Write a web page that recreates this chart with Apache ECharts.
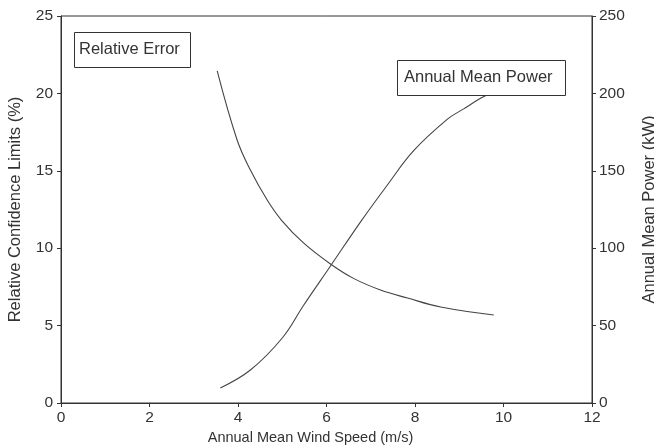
<!DOCTYPE html>
<html>
<head>
<meta charset="utf-8">
<script src="https://cdn.jsdelivr.net/npm/echarts@6/dist/echarts.min.js"></script>
<style>html,body{margin:0;padding:0;background:#fff}#c{width:654px;height:447px}</style>
</head>
<body>
<div id="c"></div>
<script>
// Data
const relErrSpeed = [3.53, 3.98, 4.28, 4.66, 4.98, 5.48, 6.09, 6.61, 7.22, 7.83, 8.58, 9.78];
const relErrValues = [21.45, 16.99, 15.05, 13.11, 11.82, 10.34, 8.98, 8.05, 7.30, 6.78, 6.20, 5.68];
const powerSpeed = [3.60, 4.28, 5.00, 5.48, 6.09, 6.77, 7.38, 7.97, 8.74, 9.10, 9.49, 9.70];
const powerValues = [9.7, 21.3, 42, 63, 88.5, 117, 141, 163, 183.5, 190, 197, 200];
const xTicks = [0, 2, 4, 6, 8, 10, 12];
const leftTicks = [0, 5, 10, 15, 20, 25];
const rightTicks = [0, 50, 100, 150, 200, 250];
const seriesNames = ['Relative Error', 'Annual Mean Power'];

const FONT = '"Liberation Sans", Arial, sans-serif';
const INK = '#333';
const chart = echarts.init(document.getElementById('c'));
const axisCommon = {
  axisLine: { show: true, lineStyle: { color: INK, width: 1 } },
  axisTick: { show: true, length: 4, lineStyle: { color: INK } },
  splitLine: { show: false },
  axisLabel: { color: INK, fontFamily: FONT, fontSize: 15.5 },
  nameTextStyle: { color: INK, fontFamily: FONT, fontSize: 14.5 }
};
chart.setOption({
  animation: false,
  backgroundColor: '#fff',
  grid: { left: 61, right: 62, top: 16, bottom: 44, show: true, borderColor: INK, borderWidth: 1, outerBoundsMode: 'none', containLabel: false },
  xAxis: Object.assign({}, axisCommon, {
    type: 'value', min: xTicks[0], max: xTicks[xTicks.length - 1], interval: 2,
    name: 'Annual Mean Wind Speed (m/s)', nameLocation: 'middle', nameGap: 25,
    nameTextStyle: { color: INK, fontFamily: FONT, fontSize: 14.5, padding: [0, 32, 0, 0] },
    axisLabel: Object.assign({}, axisCommon.axisLabel, { margin: 7 })
  }),
  yAxis: [
    Object.assign({}, axisCommon, {
      type: 'value', min: leftTicks[0], max: leftTicks[leftTicks.length - 1], interval: 5,
      name: 'Relative Confidence Limits (%)', nameLocation: 'middle', nameGap: 37,
      nameTextStyle: { color: INK, fontFamily: FONT, fontSize: 16.5 },
      axisLabel: Object.assign({}, axisCommon.axisLabel, { margin: 8 })
    }),
    Object.assign({}, axisCommon, {
      type: 'value', position: 'right', min: rightTicks[0], max: rightTicks[rightTicks.length - 1], interval: 50,
      name: 'Annual Mean Power (kW)', nameLocation: 'middle', nameGap: 49,
      nameTextStyle: { color: INK, fontFamily: FONT, fontSize: 16.5 },
      axisLabel: Object.assign({}, axisCommon.axisLabel, { margin: 7 })
    })
  ],
  series: [
    {
      name: seriesNames[0], type: 'line', yAxisIndex: 0, smooth: 0.4, symbol: 'none', z: 2,
      lineStyle: { color: '#444', width: 1.1 },
      data: relErrSpeed.map((x, i) => [x, relErrValues[i]])
    },
    {
      name: seriesNames[1], type: 'line', yAxisIndex: 1, smooth: 0.4, symbol: 'none', z: 2,
      lineStyle: { color: '#444', width: 1.1 },
      data: powerSpeed.map((x, i) => [x, powerValues[i]])
    }
  ],
  graphic: [
    { type: 'rect', left: 74, top: 32, z: 100, shape: { width: 116, height: 35 }, style: { fill: '#fff', stroke: INK, lineWidth: 1 } },
    { type: 'text', left: 79, top: 41, z: 101, style: { text: seriesNames[0], fill: INK, font: '16.5px ' + FONT } },
    { type: 'rect', left: 397, top: 60, z: 100, shape: { width: 168, height: 35 }, style: { fill: '#fff', stroke: INK, lineWidth: 1 } },
    { type: 'text', left: 404, top: 69, z: 101, style: { text: seriesNames[1], fill: INK, font: '16.5px ' + FONT } }
  ]
});
</script>
</body>
</html>
